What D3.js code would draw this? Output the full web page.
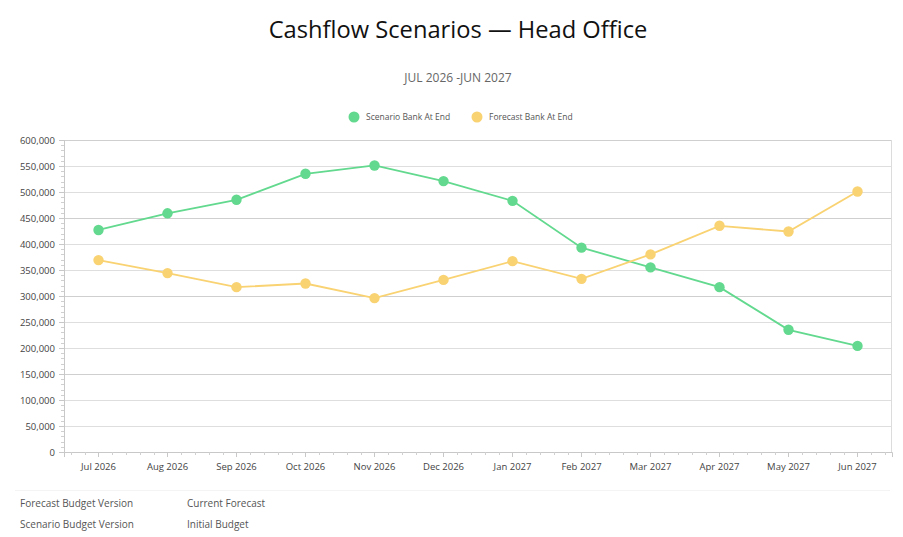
<!DOCTYPE html>
<html>
<head>
<meta charset="utf-8">
<script src="https://cdn.jsdelivr.net/npm/d3@7"></script>
<style>
  body { margin: 0; background: #fff; font-family: "Open Sans", sans-serif; }
</style>
</head>
<body>
<div id="chart"></div>
<script>
const months = ["Jul 2026", "Aug 2026", "Sep 2026", "Oct 2026", "Nov 2026", "Dec 2026",
                "Jan 2027", "Feb 2027", "Mar 2027", "Apr 2027", "May 2027", "Jun 2027"];
const scenarioBank = [427000, 459000, 485000, 535000, 551000, 521000, 483000, 393000, 355000, 317000, 235000, 204000];
const forecastBank = [369000, 344000, 317000, 324000, 296000, 331000, 367000, 333000, 380000, 435000, 424000, 501000];
const yTicks = [0, 50000, 100000, 150000, 200000, 250000, 300000, 350000, 400000, 450000, 500000, 550000, 600000];
const seriesNames = ["Scenario Bank At End", "Forecast Bank At End"];
const infoLabels = ["Forecast Budget Version", "Scenario Budget Version"];
const infoValues = ["Current Forecast", "Initial Budget"];

const W = 903, H = 537;
const margin = {top: 140, right: 11, bottom: 85, left: 64},
  width = W - margin.left - margin.right,
  height = H - margin.top - margin.bottom;

const green = "#62d98e", yellow = "#f9d272";

const root = d3.select("#chart").append("svg")
  .attr("width", W).attr("height", H);

// title + subtitle
root.append("text").attr("x", 458).attr("y", 38)
  .attr("text-anchor", "middle").attr("font-size", 23.7).attr("fill", "#111")
  .text("Cashflow Scenarios \u2014 Head Office");
root.append("text").attr("x", 458).attr("y", 82)
  .attr("text-anchor", "middle").attr("font-size", 12).attr("fill", "#666")
  .text("JUL 2026 -JUN 2027");

// legend
const legend = root.append("g").attr("font-size", 8.5).attr("fill", "#555");
const legendX = [354, 477];
seriesNames.forEach((name, i) => {
  legend.append("circle").attr("cx", legendX[i]).attr("cy", 117).attr("r", 5.5)
    .attr("fill", i === 0 ? green : yellow);
  legend.append("text").attr("x", legendX[i] + 12).attr("y", 120).text(name);
});

const svg = root.append("g").attr("transform", `translate(${margin.left},${margin.top})`);

const x = d3.scaleBand().domain(months).range([0, width]);
const y = d3.scaleLinear().domain([0, 600000]).range([height, 0]);
const cx = d => x(d) + x.bandwidth() / 2;

// grid lines
svg.append("g").selectAll("line").data(yTicks).join("line")
  .attr("x1", 0).attr("x2", width)
  .attr("y1", d => Math.round(y(d)) + 0.5).attr("y2", d => Math.round(y(d)) + 0.5)
  .attr("stroke", (d, i) => i % 3 === 0 ? "#cfcfcf" : "#dedede");

// right border
svg.append("line").attr("x1", width - 0.5).attr("x2", width - 0.5)
  .attr("y1", 0).attr("y2", height).attr("stroke", "#dcdcdc");

// y axis
const yAxis = svg.append("g")
  .call(d3.axisLeft(y).tickValues(yTicks).tickSize(5).tickPadding(4)
    .tickFormat(d3.format(",")));
yAxis.select(".domain").attr("stroke", "#c8c8c8");
yAxis.selectAll(".tick line").attr("stroke", "#c8c8c8");
yAxis.selectAll("text").attr("fill", "#444").attr("font-size", 9.5)
  .attr("font-family", "Open Sans, sans-serif");
svg.append("g").selectAll("line")
  .data(d3.range(0, 600001, 10000).filter(v => v % 50000 !== 0))
  .join("line")
  .attr("x1", -3).attr("x2", 0)
  .attr("y1", d => Math.round(y(d)) + 0.5).attr("y2", d => Math.round(y(d)) + 0.5)
  .attr("stroke", "#d0d0d0");

// x axis
const xAxis = svg.append("g").attr("transform", `translate(0,${height})`)
  .call(d3.axisBottom(x).tickSize(5).tickPadding(6));
xAxis.select(".domain").attr("stroke", "#c8c8c8");
xAxis.selectAll(".tick line").attr("stroke", "#c8c8c8");
xAxis.selectAll("text").attr("fill", "#444").attr("font-size", 9.5)
  .attr("font-family", "Open Sans, sans-serif");
const minorX = [];
months.forEach(m => {
  [-2, -1, 1, 2].forEach(k => minorX.push(cx(m) + k * x.bandwidth() / 5));
});
svg.append("g").selectAll("line").data(minorX).join("line")
  .attr("x1", d => Math.round(d) + 0.5).attr("x2", d => Math.round(d) + 0.5)
  .attr("y1", height).attr("y2", height + 3)
  .attr("stroke", "#d0d0d0");

// lines + points
const line = d3.line().x((d, i) => cx(months[i])).y(d => y(d));
[[scenarioBank, green], [forecastBank, yellow]].forEach(([vals, col]) => {
  svg.append("path").datum(vals).attr("d", line)
    .attr("fill", "none").attr("stroke", col).attr("stroke-width", 1.8);
  svg.append("g").selectAll("circle").data(vals).join("circle")
    .attr("cx", (d, i) => cx(months[i])).attr("cy", d => y(d))
    .attr("r", 5.2).attr("fill", col);
});

// info table
root.append("line").attr("x1", 15).attr("x2", 890).attr("y1", 490.5).attr("y2", 490.5)
  .attr("stroke", "#f4f4f4");
const info = root.append("g").attr("font-size", 10).attr("fill", "#555");
infoLabels.forEach((lab, i) => {
  info.append("text").attr("x", 20).attr("y", 507 + i * 21).text(lab);
  info.append("text").attr("x", 187).attr("y", 507 + i * 21).text(infoValues[i]);
});
</script>
</body>
</html>
